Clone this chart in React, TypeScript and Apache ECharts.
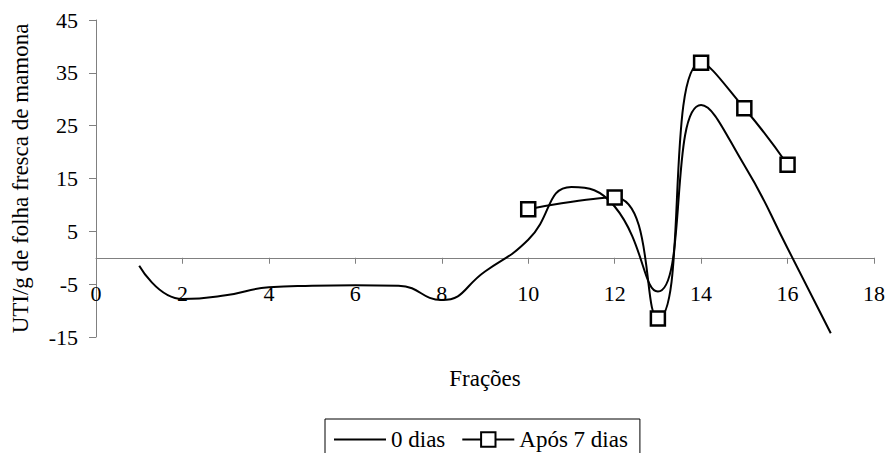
import React, { useEffect, useRef } from "react";
import * as echarts from "echarts";

// Frações (eixo x) e atividade inibitória (UTI/g)
const fracoes0Dias = [1, 2, 3, 4, 5, 6, 7, 8, 9, 10, 11, 12, 13, 14, 15, 16, 17];
const valores0Dias = [-1.5, -7.8, -7.1, -5.6, -5.3, -5.2, -5.3, -8.0, -2.6, 3.4, 13.4, 9.7, -6.4, 28.9, 17.5, 1.8, -14.3];

const fracoes7Dias = [10, 12, 13, 14, 15, 16];
const valores7Dias = [9.2, 11.4, -11.5, 36.9, 28.3, 17.6];

const xTicks = { min: 0, max: 18, interval: 2 };
const yTicks = { min: -15, max: 45, interval: 10 };

const FONT = "Liberation Serif";

const GRID_TOP = 20;
const GRID_BOTTOM = 116;
const HEIGHT = 453;

export default function App() {
  const ref = useRef<HTMLDivElement>(null);

  useEffect(() => {
    if (!ref.current) return;
    const chart = echarts.init(ref.current, null, { renderer: "svg" });

    const axisLineColor = "#808080";

    // The x axis crosses the y axis at zero: shift it up from the grid's bottom edge.
    const plotH = HEIGHT - GRID_TOP - GRID_BOTTOM;
    const zeroShift = (plotH * (0 - yTicks.min)) / (yTicks.max - yTicks.min);

    chart.setOption({
      animation: false,
      backgroundColor: "#ffffff",
      textStyle: { fontFamily: FONT, color: "#000" },
      grid: {
        left: 96,
        right: 17,
        top: GRID_TOP,
        bottom: GRID_BOTTOM,
        outerBoundsMode: "none",
        containLabel: false,
      },
      legend: {
        left: 325,
        top: 419,
        orient: "horizontal",
        padding: [9, 12, 12, 8],
        itemWidth: 52,
        itemHeight: 18,
        itemGap: 16,
        borderColor: "#000",
        borderWidth: 1,
        borderRadius: 0,
        textStyle: { fontFamily: FONT, fontSize: 23, color: "#000" },
        data: [
          { name: "0 dias", itemStyle: { opacity: 0 } },
          { name: "Após 7 dias" },
        ],
      },
      xAxis: {
        type: "value",
        min: xTicks.min,
        max: xTicks.max,
        interval: xTicks.interval,
        position: "bottom",
        offset: -zeroShift,
        name: "Frações",
        nameLocation: "middle",
        nameGap: 109,
        nameTextStyle: { fontFamily: FONT, fontSize: 23, color: "#000" },
        axisLine: { onZero: false, lineStyle: { color: axisLineColor, width: 1 } },
        axisTick: { show: true, length: 6, lineStyle: { color: axisLineColor } },
        axisLabel: { fontFamily: FONT, fontSize: 22, color: "#000", margin: 25 },
        splitLine: { show: false },
      },
      yAxis: {
        type: "value",
        min: yTicks.min,
        max: yTicks.max,
        interval: yTicks.interval,
        name: "UTI/g de folha fresca de mamona",
        nameLocation: "middle",
        nameGap: 64,
        nameTextStyle: { fontFamily: FONT, fontSize: 23, color: "#000" },
        axisLine: { show: true, onZero: false, lineStyle: { color: axisLineColor, width: 1 } },
        axisTick: { show: true, length: 7, lineStyle: { color: axisLineColor } },
        axisLabel: { fontFamily: FONT, fontSize: 22, color: "#000", margin: 18 },
        splitLine: { show: false },
      },
      series: [
        {
          name: "0 dias",
          type: "line",
          smooth: 0.5,
          symbol: "none",
          color: "#000",
          lineStyle: { color: "#000", width: 2 },
          data: fracoes0Dias.map((x, i) => [x, valores0Dias[i]]),
        },
        {
          name: "Após 7 dias",
          type: "line",
          smooth: 0.5,
          symbol: "rect",
          symbolSize: 14,
          color: "#000",
          lineStyle: { color: "#000", width: 2 },
          itemStyle: { color: "#fff", borderColor: "#000", borderWidth: 2.5 },
          data: fracoes7Dias.map((x, i) => [x, valores7Dias[i]]),
        },
      ],
    });

    return () => chart.dispose();
  }, []);

  return (
    <div
      ref={ref}
      style={{ position: "fixed", left: 0, top: 0, width: 891, height: HEIGHT }}
    />
  );
}
